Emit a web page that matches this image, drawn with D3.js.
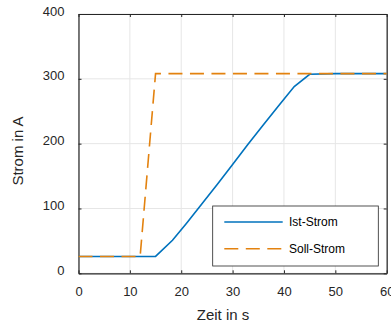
<!DOCTYPE html>
<html><head><meta charset="utf-8">
<script src="https://cdn.jsdelivr.net/npm/d3@7"></script>
<style>body{margin:0;background:#fff}svg{display:block;font-family:"Liberation Sans",Arial,sans-serif}</style>
</head><body><div id="c"></div>
<script>
const sollTime = [0, 12, 15, 60];
const sollCurrent = [26, 26, 308, 308];
const istTime = [0, 15, 18.3, 21, 24, 27, 30, 33, 36, 39, 42, 45, 50, 60];
const istCurrent = [26, 26, 51, 77, 107, 137, 168, 199, 229, 259, 288, 307, 308, 308];
const xTicks = [0, 10, 20, 30, 40, 50, 60];
const yTicks = [0, 100, 200, 300, 400];
const seriesNames = ["Ist-Strom", "Soll-Strom"];

const W = 391, H = 323;
const L = 78.5, R = 386.7, T = 14, B = 273.3;
const svg = d3.select("#c").append("svg").attr("width", W).attr("height", H);
const x = d3.scaleLinear().domain([0, 60]).range([L, R]);
const y = d3.scaleLinear().domain([0, 400]).range([B, T]);
const axisCol = "#262626";

// grid
const g = svg.append("g");
g.selectAll(".gx").data(xTicks).join("line")
  .attr("x1", d => x(d)).attr("x2", d => x(d)).attr("y1", T).attr("y2", B)
  .attr("stroke", "#e6e6e6").attr("stroke-width", 1);
g.selectAll(".gy").data(yTicks).join("line")
  .attr("y1", d => y(d)).attr("y2", d => y(d)).attr("x1", L).attr("x2", R)
  .attr("stroke", "#e6e6e6").attr("stroke-width", 1);

// axes
const xa = svg.append("g").attr("transform", `translate(0,${B})`)
  .call(d3.axisBottom(x).tickValues(xTicks).tickSizeInner(-3).tickSizeOuter(0).tickPadding(10));
const xt = svg.append("g").attr("transform", `translate(0,${T})`)
  .call(d3.axisTop(x).tickValues(xTicks).tickSizeInner(-3).tickSizeOuter(0).tickFormat(""));
const ya = svg.append("g").attr("transform", `translate(${L},0)`)
  .call(d3.axisLeft(y).tickValues(yTicks).tickSizeInner(-3).tickSizeOuter(0).tickPadding(14));
const yr = svg.append("g").attr("transform", `translate(${R},0)`)
  .call(d3.axisRight(y).tickValues(yTicks).tickSizeInner(-3).tickSizeOuter(0).tickFormat(""));
[xa, xt, ya, yr].forEach(a => {
  a.select(".domain").attr("stroke", axisCol).attr("stroke-width", 1.2);
  a.selectAll(".tick line").attr("stroke", axisCol);
  a.selectAll("text").attr("fill", "#262626").style("font-size", "13px").style("font-family", "'Liberation Sans',Arial,sans-serif");
});
xa.selectAll("text").attr("dy", "0.71em").attr("transform", "translate(0,3)");
ya.selectAll("text").attr("dy", "0.32em").attr("transform", "translate(0,-3)");

// lines
const line = d3.line().x(d => x(d[0])).y(d => y(d[1]));
const ist = istTime.map((t, i) => [t, istCurrent[i]]);
const soll = sollTime.map((t, i) => [t, sollCurrent[i]]);
const blue = "#0072BD", orange = "#E3820F";
svg.append("path").datum(ist).attr("d", line).attr("fill", "none")
  .attr("stroke", blue).attr("stroke-width", 1.6);
svg.append("path").datum(soll).attr("d", line).attr("fill", "none")
  .attr("stroke", orange).attr("stroke-width", 1.6).attr("stroke-dasharray", "14,7.5");

// labels
svg.append("text").attr("x", 223).attr("y", 319.5).attr("text-anchor", "middle")
  .style("font-size", "15px").attr("fill", "#262626").text("Zeit in s");
svg.append("text").attr("transform", "translate(23,151) rotate(-90)").attr("text-anchor", "middle")
  .style("font-size", "15px").attr("fill", "#262626").text("Strom in A");

// legend
const lg = svg.append("g");
lg.append("rect").attr("x", 212.7).attr("y", 206).attr("width", 165.6).attr("height", 60)
  .attr("fill", "#fff").attr("stroke", "#262626").attr("stroke-width", 0.8);
const cols = [blue, orange];
const dashes = [null, "14,7.5"];
seriesNames.forEach((n, i) => {
  const yy = 222 + i * 26.7;
  lg.append("line").attr("x1", 224.3).attr("x2", 282.7).attr("y1", yy).attr("y2", yy)
    .attr("stroke", cols[i]).attr("stroke-width", 1.6).attr("stroke-dasharray", dashes[i]);
  lg.append("text").attr("x", 289).attr("y", yy).attr("dy", "0.35em")
    .style("font-size", "12px").attr("fill", "#000").text(n);
});
</script></body></html>
